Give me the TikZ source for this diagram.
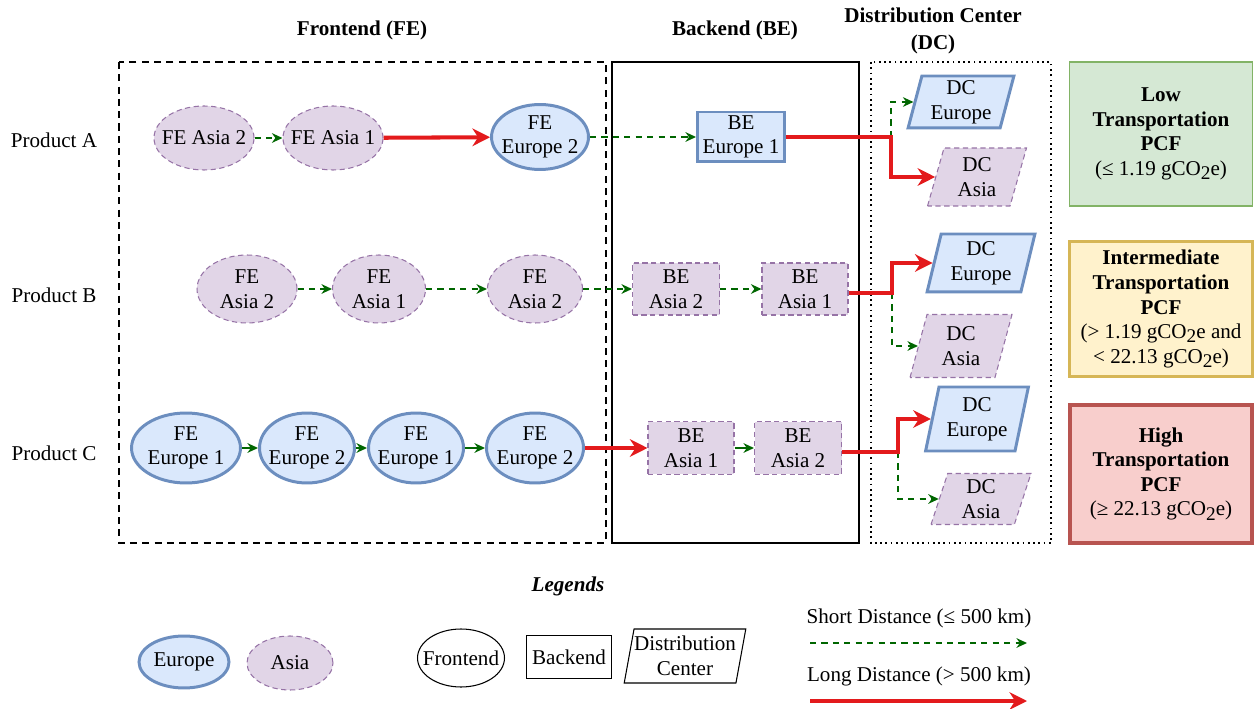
\documentclass[tikz,border=0pt]{standalone}
\usepackage{fontspec}
\setmainfont{Liberation Serif}
\usepackage{tikz}
\usetikzlibrary{shapes.geometric,arrows.meta}

\definecolor{eurofill}{HTML}{DAE8FC}
\definecolor{euroline}{HTML}{6C8EBF}
\definecolor{asiafill}{HTML}{E1D5E7}
\definecolor{asialine}{HTML}{9673A6}
\definecolor{shortgreen}{HTML}{006600}
\definecolor{longred}{HTML}{E31A1C}
\definecolor{lowfill}{HTML}{D5E8D4}
\definecolor{lowline}{HTML}{82B366}
\definecolor{midfill}{HTML}{FFF2CC}
\definecolor{midline}{HTML}{D6B656}
\definecolor{highfill}{HTML}{F8CECC}
\definecolor{highline}{HTML}{B85450}

\newcommand{\cotwo}{CO\raisebox{-0.45ex}{\fontsize{11}{11}\selectfont 2}}

\tikzset{
	fenode/.style={ellipse, inner xsep=-7pt, inner ysep=-1pt, align=center},
	benode/.style={rectangle, inner sep=0pt, align=center},
	dcnode/.style={trapezium, trapezium left angle=76, trapezium right angle=104, trapezium stretches=true, inner sep=0pt, align=center},
	europe/.style={draw=euroline, fill=eurofill, line width=1.7pt},
	asia/.style={draw=asialine, fill=asiafill, line width=0.6pt, dash pattern=on 3pt off 2pt},
	shortdist/.style={draw=shortgreen, line width=1.1pt, dash pattern=on 3.5pt off 3pt, -{Stealth[length=6pt,width=5.5pt]}},
	shortsolid/.style={draw=shortgreen, line width=1.1pt, -{Stealth[length=6pt,width=5.5pt]}},
	longdist/.style={draw=longred, line width=2.3pt, -{Stealth[length=10pt,width=10pt]}},
	pcfbox/.style={rectangle, align=center, minimum width=3.66cm}
}

\begin{document}
\begin{tikzpicture}[x=0.02cm, y=-0.02cm, font=\fontsize{12}{14}\selectfont]
	\useasboundingbox (0,0) rectangle (1254,709);

	% stage frames
	\draw[line width=1pt, dash pattern=on 4pt off 3pt] (119,62) rectangle (606,543);
	\draw[line width=1pt] (612,62) rectangle (859,543);
	\draw[line width=1pt, dotted] (871,62) rectangle (1051,543);

	\node[font=\fontsize{12}{14}\selectfont\bfseries] (hFE) at (362,30) {Frontend (FE)};
	\node[font=\fontsize{12}{14}\selectfont\bfseries] (hBE) at (735,30) {Backend (BE)};
	\node[font=\fontsize{12}{15}\selectfont\bfseries, align=center] (hDC) at (933,31) {Distribution Center\\(DC)};

	\node (pA) at (54,140) {Product A};
	\node (pB) at (54,295) {Product B};
	\node (pC) at (54,453) {Product C};

	% Product A
	\node[fenode, asia, minimum width=2cm, minimum height=1.28cm] (feA1) at (204,138) {FE Asia 2};
	\node[fenode, asia, minimum width=2cm, minimum height=1.28cm] (feA2) at (333,138) {FE Asia 1};
	\node[fenode, europe, minimum width=1.94cm, minimum height=1.3cm] (feA3) at (540,137) {FE\\Europe 2};
	\node[benode, europe, minimum width=1.74cm, minimum height=1cm] (beA1) at (741,137) {BE\\Europe 1};
	\node[dcnode, europe, minimum width=2.12cm, minimum height=1.04cm] (dcA1) at (961,102) {DC\\Europe};
	\node[dcnode, asia, minimum width=1.98cm, minimum height=1.16cm] (dcA2) at (977,177) {DC\\Asia};
	\coordinate (jA) at (891,137);

	\draw[shortdist] (feA1) -- (feA2);
	\draw[longdist] (feA2) -- (feA3);
	\draw[shortdist] (feA3) -- (beA1);
	\draw[shortdist] (jA) |- (dcA1.west);
	\draw[longdist] (beA1.east) -- (jA) |- (dcA2.west);

	% Product B
	\node[fenode, asia, minimum width=2cm, minimum height=1.36cm] (feB1) at (247,289) {FE\\Asia 2};
	\node[fenode, asia, minimum width=1.86cm, minimum height=1.36cm] (feB2) at (379,289) {FE\\Asia 1};
	\node[fenode, asia, minimum width=1.9cm, minimum height=1.36cm] (feB3) at (535,289) {FE\\Asia 2};
	\node[benode, asia, minimum width=1.74cm, minimum height=1.04cm] (beB1) at (676,289) {BE\\Asia 2};
	\node[benode, asia, minimum width=1.72cm, minimum height=1.04cm] (beB2) at (805,289) {BE\\Asia 1};
	\node[dcnode, europe, minimum width=2.16cm, minimum height=1.16cm] (dcB1) at (981,263) {DC\\Europe};
	\node[dcnode, asia, minimum width=2.04cm, minimum height=1.26cm] (dcB2) at (961,346) {DC\\Asia};
	\coordinate (jB) at (892,293);

	\draw[shortdist] (feB1) -- (feB2);
	\draw[shortdist] (feB2) -- (feB3);
	\draw[shortdist] (feB3) -- (beB1);
	\draw[shortdist] (beB1) -- (beB2);
	\draw[shortdist] (jB) |- (dcB2.west);
	\draw[longdist] (beB2.east |- jB) -- (jB) |- (dcB1.west);

	% Product C
	\node[fenode, europe, minimum width=2.18cm, minimum height=1.4cm] (feC1) at (186,448) {FE\\Europe 1};
	\node[fenode, europe, minimum width=1.9cm, minimum height=1.4cm] (feC2) at (307,448) {FE\\Europe 2};
	\node[fenode, europe, minimum width=1.9cm, minimum height=1.4cm] (feC3) at (416,448) {FE\\Europe 1};
	\node[fenode, europe, minimum width=1.94cm, minimum height=1.4cm] (feC4) at (535,448) {FE\\Europe 2};
	\node[benode, asia, minimum width=1.72cm, minimum height=1.06cm] (beC1) at (691,448) {BE\\Asia 1};
	\node[benode, asia, minimum width=1.74cm, minimum height=1.06cm] (beC2) at (798,448) {BE\\Asia 2};
	\node[dcnode, europe, minimum width=2.06cm, minimum height=1.28cm] (dcC1) at (977,419) {DC\\Europe};
	\node[dcnode, asia, minimum width=2cm, minimum height=1.02cm] (dcC2) at (981,499) {DC\\Asia};
	\coordinate (jC) at (898,452);

	\draw[shortsolid] (feC1) -- (feC2);
	\draw[shortsolid] (feC2) -- (feC3);
	\draw[shortsolid] (feC3) -- (feC4);
	\draw[longdist] (feC4) -- (beC1);
	\draw[shortsolid] (beC1) -- (beC2);
	\draw[shortdist] (jC) |- (dcC2.west);
	\draw[longdist] (beC2.east |- jC) -- (jC) |- (dcC1.west);

	% PCF classes
	\node[pcfbox, draw=lowline, fill=lowfill, line width=0.8pt, minimum height=2.88cm] (pcfLow) at (1161,134)
		{\textbf{Low}\\\textbf{Transportation}\\\textbf{PCF}\\(≤ 1.19 g\cotwo e)};
	\node[pcfbox, draw=midline, fill=midfill, line width=1.7pt, minimum height=2.72cm] (pcfMid) at (1161,309)
		{\textbf{Intermediate}\\\textbf{Transportation}\\\textbf{PCF}\\(> 1.19 g\cotwo e and\\< 22.13 g\cotwo e)};
	\node[pcfbox, draw=highline, fill=highfill, line width=2.3pt, minimum height=2.76cm] (pcfHigh) at (1161,474)
		{\textbf{High}\\\textbf{Transportation}\\\textbf{PCF}\\(≥ 22.13 g\cotwo e)};

	% legend
	\node[font=\fontsize{12}{14}\selectfont\bfseries\itshape] (legTitle) at (568,586) {Legends};
	\node[fenode, europe, minimum width=1.8cm, minimum height=1.04cm] (legEurope) at (184,662) {Europe};
	\node[fenode, asia, minimum width=1.72cm, minimum height=1.08cm] (legAsia) at (290,663) {Asia};
	\node[fenode, draw, line width=0.6pt, minimum width=1.74cm, minimum height=1.16cm] (legFE) at (461,658) {Frontend};
	\node[benode, draw, line width=0.6pt, minimum width=1.7cm, minimum height=0.86cm] (legBE) at (569,657) {Backend};
	\node[dcnode, draw, line width=0.6pt, minimum width=2.3cm, minimum height=1.08cm] (legDC) at (685,656) {Distribution\\Center};
	\node (legShort) at (919,618) {Short Distance (≤ 500 km)};
	\node (legLong) at (919,676) {Long Distance (> 500 km)};
	\coordinate (s0) at (810,643);
	\coordinate (s1) at (1027,643);
	\coordinate (l0) at (810,701);
	\coordinate (l1) at (1027,701);
	\draw[shortdist] (s0) -- (s1);
	\draw[longdist] (l0) -- (l1);
\end{tikzpicture}
\end{document}
